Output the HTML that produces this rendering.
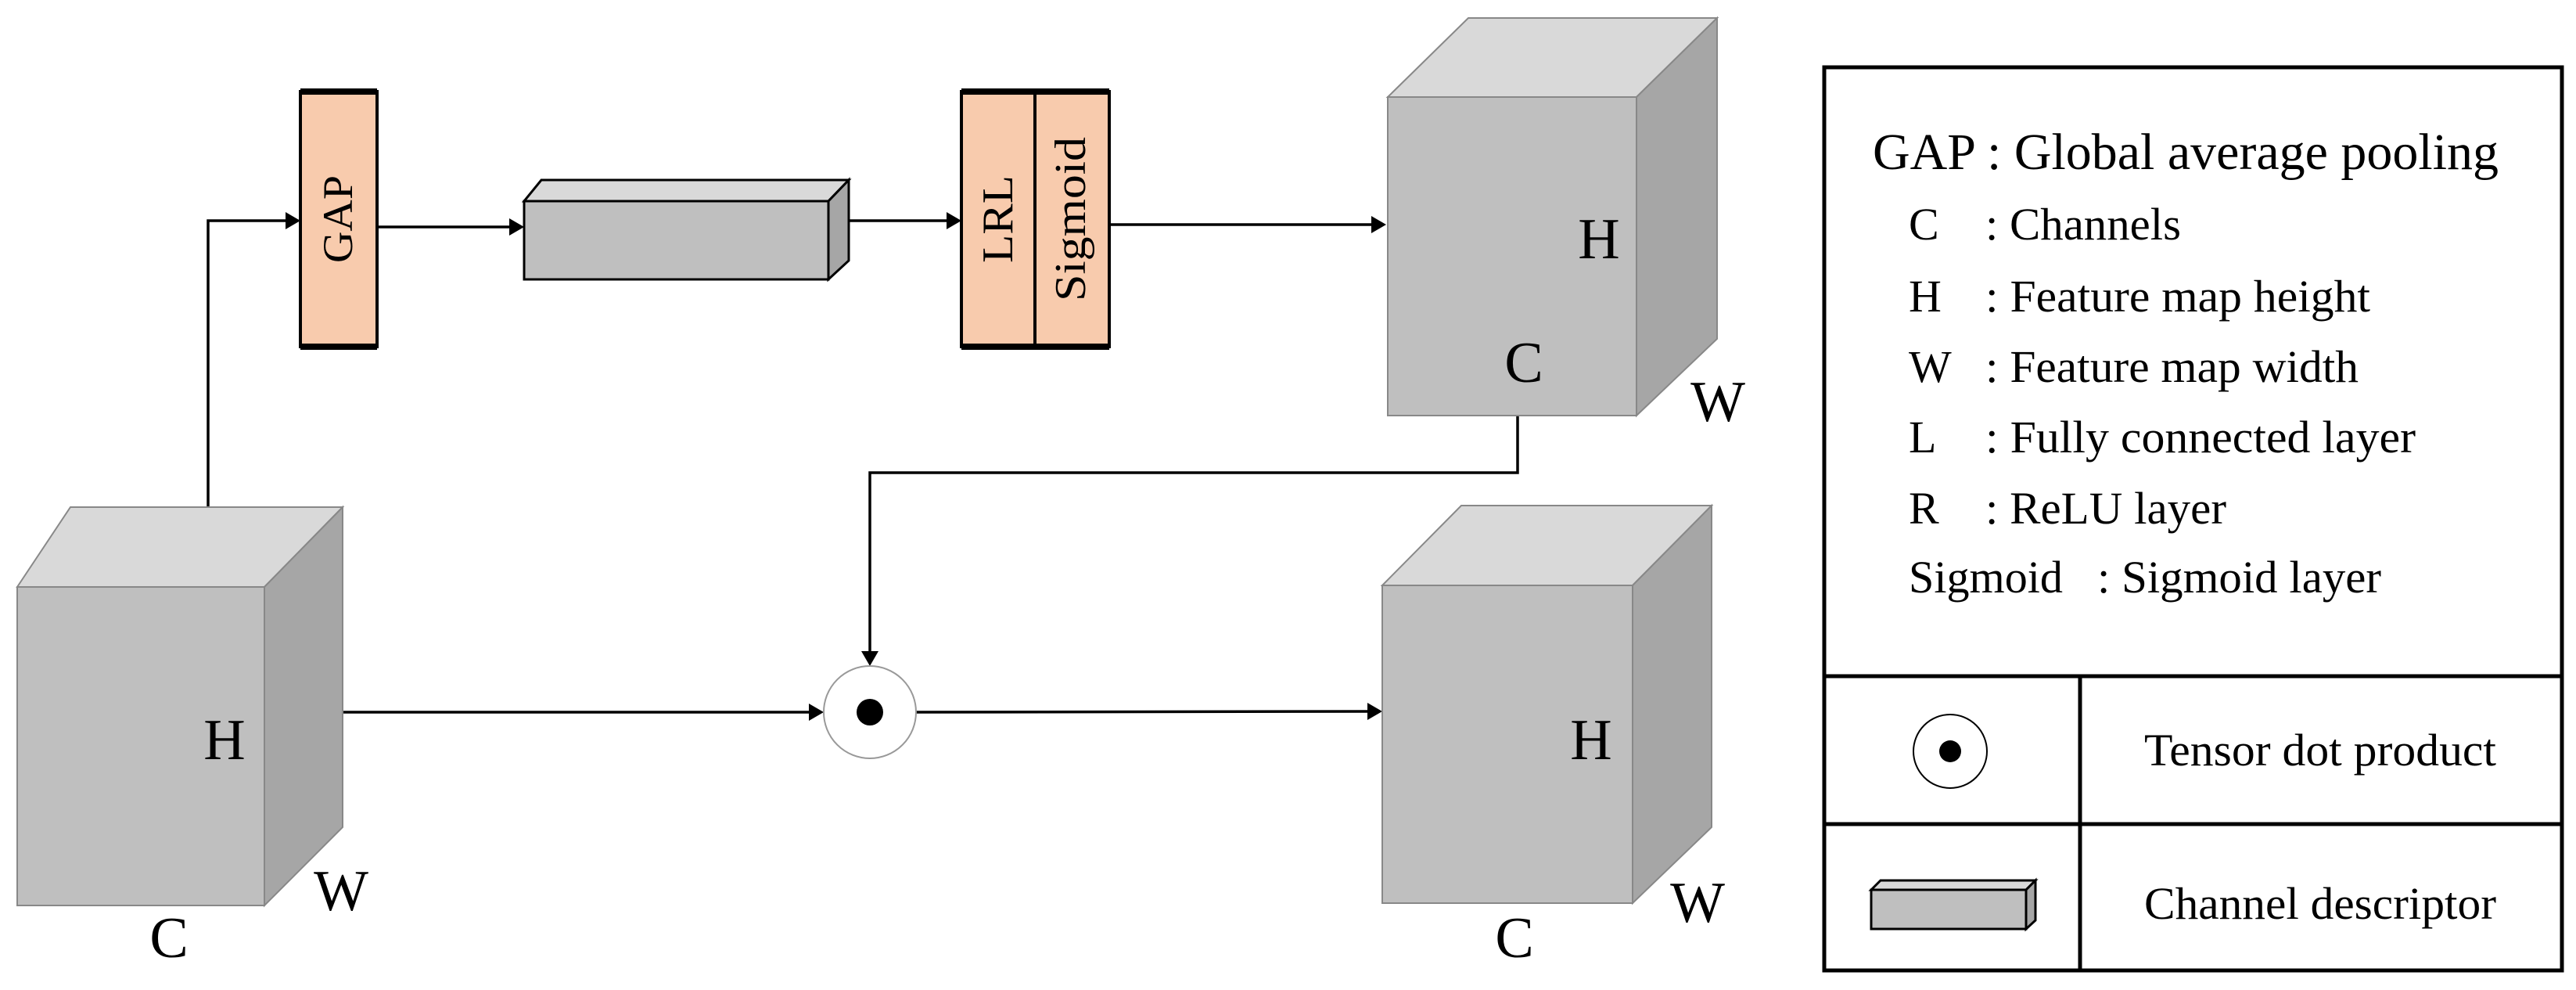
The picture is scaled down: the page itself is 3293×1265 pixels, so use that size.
<!DOCTYPE html>
<html><head><meta charset="utf-8"><style>
html,body{margin:0;padding:0;background:#fff;}
svg{display:block;}
text{font-family:"Liberation Serif",serif;fill:#000;}
</style></head><body>
<svg width="3293" height="1265" viewBox="0 0 3293 1265" xmlns="http://www.w3.org/2000/svg">
<!-- GAP box -->
<rect x="384" y="117" width="98" height="326" fill="#F8CBAD" stroke="#000" stroke-width="4"/>
<line x1="384" y1="117" x2="482" y2="117" stroke="#000" stroke-width="8"/>
<line x1="384" y1="443" x2="482" y2="443" stroke="#000" stroke-width="8"/>
<text font-size="54" text-anchor="middle" textLength="112" lengthAdjust="spacingAndGlyphs" transform="translate(450,280) rotate(-90)">GAP</text>
<!-- LRL/Sigmoid -->
<rect x="1229" y="117" width="189" height="326" fill="#F8CBAD" stroke="#000" stroke-width="4"/>
<line x1="1323" y1="117" x2="1323" y2="443" stroke="#000" stroke-width="4"/>
<line x1="1229" y1="117" x2="1418" y2="117" stroke="#000" stroke-width="8"/>
<line x1="1229" y1="443" x2="1418" y2="443" stroke="#000" stroke-width="8"/>
<text font-size="56" text-anchor="middle" textLength="112" lengthAdjust="spacingAndGlyphs" transform="translate(1294,280) rotate(-90)">LRL</text>
<text font-size="56" text-anchor="middle" textLength="210" lengthAdjust="spacingAndGlyphs" transform="translate(1387,280) rotate(-90)">Sigmoid</text>
<!-- channel descriptor -->
<polygon points="670,257 692,230 1085,230 1059,257" fill="#D9D9D9" stroke="#000" stroke-width="3"/>
<polygon points="1059,257 1085,230 1085,333 1059,357" fill="#A6A6A6" stroke="#000" stroke-width="3"/>
<rect x="670" y="257" width="389" height="100" fill="#BFBFBF" stroke="#000" stroke-width="3"/>
<!-- connectors -->
<g stroke="#000" stroke-width="3.5" fill="none">
<polyline points="266,647 266,282 370,282"/>
<line x1="482" y1="290" x2="655" y2="290"/>
<line x1="1085" y1="282" x2="1215" y2="282"/>
<line x1="1418" y1="287" x2="1758" y2="287"/>
<polyline points="1940,531 1940,604 1112,604 1112,836"/>
<line x1="438" y1="910" x2="1040" y2="910"/>
<line x1="1171" y1="910" x2="1752" y2="909"/>
</g>
<g fill="#000">
<polygon points="384,282 365,271 365,293"/>
<polygon points="670,290 651,279 651,301"/>
<polygon points="1229,282 1210,271 1210,293"/>
<polygon points="1772,287 1753,276 1753,298"/>
<polygon points="1112,851 1101,832 1123,832"/>
<polygon points="1053,910 1034,899 1034,921"/>
<polygon points="1767,909 1748,898 1748,920"/>
</g>
<!-- top right cube -->
<polygon points="1774,124 1877,23 2195,23 2092,124" fill="#D9D9D9" stroke="#888" stroke-width="2"/>
<polygon points="2092,124 2195,23 2195,433 2092,531" fill="#A6A6A6" stroke="#888" stroke-width="2"/>
<rect x="1774" y="124" width="318" height="407" fill="#BFBFBF" stroke="#888" stroke-width="2"/>
<text x="2044" y="330" font-size="74" text-anchor="middle">H</text>
<text x="1948" y="488" font-size="74" text-anchor="middle">C</text>
<text x="2196" y="538" font-size="74" text-anchor="middle">W</text>
<!-- left cube -->
<polygon points="22,750 90,648 438,648 338,750" fill="#D9D9D9" stroke="#888" stroke-width="2"/>
<polygon points="338,750 438,648 438,1057 338,1157" fill="#A6A6A6" stroke="#888" stroke-width="2"/>
<rect x="22" y="750" width="316" height="407" fill="#BFBFBF" stroke="#888" stroke-width="2"/>
<text x="287" y="970" font-size="74" text-anchor="middle">H</text>
<text x="436" y="1163" font-size="74" text-anchor="middle">W</text>
<text x="216" y="1223" font-size="74" text-anchor="middle">C</text>
<!-- circle -->
<circle cx="1112" cy="910" r="59" fill="#fff" stroke="#999" stroke-width="2"/>
<circle cx="1112" cy="910" r="17" fill="#000"/>
<!-- bottom right cube -->
<polygon points="1767,748 1868,646 2188,646 2087,748" fill="#D9D9D9" stroke="#888" stroke-width="2"/>
<polygon points="2087,748 2188,646 2188,1057 2087,1154" fill="#A6A6A6" stroke="#888" stroke-width="2"/>
<rect x="1767" y="748" width="320" height="406" fill="#BFBFBF" stroke="#888" stroke-width="2"/>
<text x="2034" y="970" font-size="74" text-anchor="middle">H</text>
<text x="2170" y="1178" font-size="74" text-anchor="middle">W</text>
<text x="1936" y="1223" font-size="74" text-anchor="middle">C</text>
<!-- legend -->
<rect x="2332" y="86" width="943" height="1154" fill="#fff" stroke="#000" stroke-width="5"/>
<line x1="2332" y1="864" x2="3275" y2="864" stroke="#000" stroke-width="5"/>
<line x1="2332" y1="1053" x2="3275" y2="1053" stroke="#000" stroke-width="5"/>
<line x1="2659" y1="864" x2="2659" y2="1240" stroke="#000" stroke-width="5"/>
<text x="2394" y="216" font-size="66" textLength="800" lengthAdjust="spacingAndGlyphs">GAP : Global average pooling</text>
<g font-size="58">
<text x="2440" y="306">C</text><text x="2538" y="306" textLength="250" lengthAdjust="spacingAndGlyphs">: Channels</text>
<text x="2440" y="398">H</text><text x="2538" y="398" textLength="492" lengthAdjust="spacingAndGlyphs">: Feature map height</text>
<text x="2440" y="488">W</text><text x="2538" y="488" textLength="477" lengthAdjust="spacingAndGlyphs">: Feature map width</text>
<text x="2440" y="578">L</text><text x="2538" y="578" textLength="550" lengthAdjust="spacingAndGlyphs">: Fully connected layer</text>
<text x="2440" y="669">R</text><text x="2538" y="669" textLength="308" lengthAdjust="spacingAndGlyphs">: ReLU layer</text>
<text x="2440" y="757" textLength="197" lengthAdjust="spacingAndGlyphs">Sigmoid</text><text x="2681" y="757" textLength="363" lengthAdjust="spacingAndGlyphs">: Sigmoid layer</text>
<text x="2741" y="978" textLength="450" lengthAdjust="spacingAndGlyphs">Tensor dot product</text>
<text x="2741" y="1174" textLength="450" lengthAdjust="spacingAndGlyphs">Channel descriptor</text>
</g>
<circle cx="2493" cy="960" r="47" fill="#fff" stroke="#000" stroke-width="2"/>
<circle cx="2493" cy="960" r="14" fill="#000"/>
<polygon points="2392,1137 2404,1125 2602,1125 2590,1137" fill="#D9D9D9" stroke="#000" stroke-width="3"/>
<polygon points="2590,1137 2602,1125 2602,1176 2590,1187" fill="#A6A6A6" stroke="#000" stroke-width="3"/>
<rect x="2392" y="1137" width="198" height="50" fill="#BFBFBF" stroke="#000" stroke-width="3"/>
</svg>
</body></html>
